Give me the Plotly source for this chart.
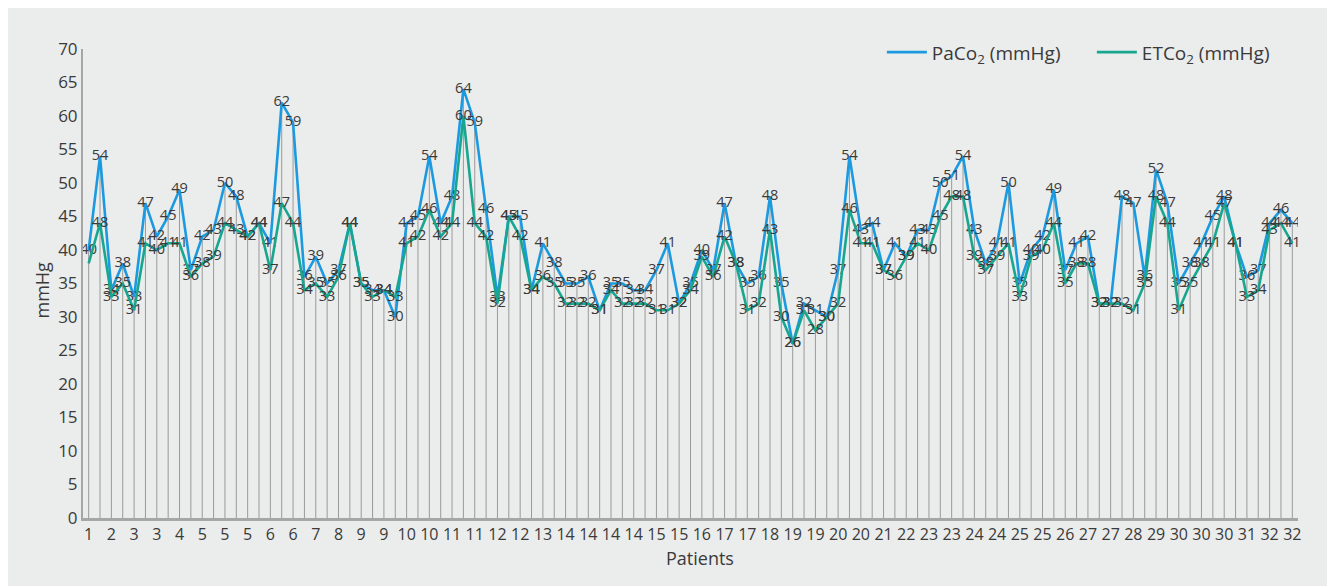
import plotly.graph_objects as go

# Patient number for each measurement (odd positions inferred, only even positions are labelled)
patients = [1, 1, 2, 2, 3, 3, 3, 4, 4, 4, 5, 5, 5, 5, 5, 6, 6, 6, 6, 7,
            7, 8, 8, 8, 9, 9, 9, 10, 10, 10, 10, 11, 11, 11, 11, 12, 12, 12, 12, 13,
            13, 14, 14, 14, 14, 14, 14, 14, 14, 15, 15, 15, 15, 16, 16, 17, 17, 17, 17, 18,
            18, 19, 19, 19, 19, 20, 20, 20, 20, 21, 21, 22, 22, 23, 23, 23, 23, 24, 24, 24,
            24, 25, 25, 25, 25, 26, 26, 27, 27, 27, 27, 28, 28, 29, 29, 30, 30, 30, 30, 30,
            30, 31, 31, 32, 32, 32, 32]

paco2 = [40, 54, 34, 38, 33, 47, 42, 45, 49, 37, 42, 43, 50, 48, 42, 44, 41, 62, 59, 36,
         39, 35, 37, 44, 35, 34, 34, 30, 44, 45, 54, 44, 48, 64, 59, 46, 33, 45, 45, 34,
         41, 38, 35, 35, 36, 31, 35, 35, 34, 34, 37, 41, 32, 35, 40, 37, 47, 38, 35, 36,
         48, 35, 26, 32, 31, 30, 37, 54, 43, 44, 37, 41, 39, 43, 43, 50, 51, 54, 43, 38,
         41, 50, 35, 40, 42, 49, 37, 41, 42, 32, 32, 48, 47, 36, 52, 47, 35, 38, 41, 45,
         48, 41, 36, 37, 44, 46, 44]

etco2 = [38, 44, 33, 35, 31, 41, 40, 41, 41, 36, 38, 39, 44, 43, 42, 44, 37, 47, 44, 34,
         35, 33, 36, 44, 35, 33, 34, 33, 41, 42, 46, 42, 44, 60, 44, 42, 32, 45, 42, 34,
         36, 35, 32, 32, 32, 31, 34, 32, 32, 32, 31, 31, 32, 34, 39, 36, 42, 38, 31, 32,
         43, 30, 26, 31, 28, 30, 32, 46, 41, 41, 37, 36, 39, 41, 40, 45, 48, 48, 39, 37,
         39, 41, 33, 39, 40, 44, 35, 38, 38, 32, 32, 32, 31, 35, 48, 44, 31, 35, 38, 41,
         47, 41, 33, 34, 43, 44, 41]

paco2_labels = [str(v) for v in paco2]
etco2_labels = [str(v) for v in etco2]
etco2_labels[0] = ""      # no visible label on the first ETCO2 point
etco2_labels[1] = "48"    # label printed in the source differs from plotted point

x = list(range(len(paco2)))
tick_vals = x[::2]
tick_text = [str(p) for p in patients[::2]]

BLUE = "#1b9ae0"
GREEN = "#17a68f"
AXIS = "#a6a6a6"
TXT = "#3a3a3a"
BG = "#ebecec"
FONT = "Open Sans"

# drop lines from the highest point of each measurement to the axis
drop_x, drop_y = [], []
for i, (a, b) in enumerate(zip(paco2, etco2)):
    drop_x += [i, i, None]
    drop_y += [0, max(a, b), None]

fig = go.Figure()
fig.add_trace(go.Scatter(x=drop_x, y=drop_y, mode="lines",
                         line=dict(color="#9a9a9a", width=1),
                         hoverinfo="skip", showlegend=False))
fig.add_trace(go.Scatter(x=x, y=paco2, mode="lines+text", name="PaCo<sub>2</sub> (mmHg)",
                         line=dict(color=BLUE, width=2.6),
                         text=paco2_labels, textposition="middle center",
                         textfont=dict(family=FONT, size=14.5, color=TXT)))
fig.add_trace(go.Scatter(x=x, y=etco2, mode="lines+text", name="ETCo<sub>2</sub> (mmHg)",
                         line=dict(color=GREEN, width=2.6),
                         text=etco2_labels, textposition="middle center",
                         textfont=dict(family=FONT, size=14.5, color=TXT)))

fig.update_layout(
    width=1335, height=586,
    margin=dict(l=75, r=45, t=41, b=76, autoexpand=False),
    paper_bgcolor=BG, plot_bgcolor=BG,
    font=dict(family=FONT, color=TXT),
    showlegend=True,
    legend=dict(orientation="h", x=0.6575, xanchor="left", y=0.993, yanchor="middle",
                bgcolor="rgba(0,0,0,0)", font=dict(family=FONT, size=19, color=TXT),
                itemwidth=40, entrywidth=155, traceorder="normal"),
    xaxis=dict(range=[-0.5, len(x) - 0.5], tickmode="array", tickvals=tick_vals,
               ticktext=tick_text, showgrid=False, zeroline=False, automargin=False,
               showline=True, linecolor=AXIS, linewidth=3, ticks="",
               tickfont=dict(family=FONT, size=16, color=TXT)),
    yaxis=dict(range=[0, 70], tickmode="linear", tick0=0, dtick=5, automargin=False,
               showgrid=False, zeroline=False, showline=True, linecolor=AXIS, linewidth=2,
               ticks="", tickfont=dict(family=FONT, size=17, color=TXT)),
    annotations=[
        dict(text="Patients", xref="paper", yref="paper", x=0.508, y=-0.085,
             xanchor="center", yanchor="middle", showarrow=False,
             font=dict(family=FONT, size=18, color=TXT)),
        dict(text="mmHg", xref="paper", yref="paper", x=-0.0334, y=0.486,
             xanchor="center", yanchor="middle", showarrow=False, textangle=-90,
             font=dict(family=FONT, size=18, color=TXT)),
    ],
)

fig.write_html("out.html")
